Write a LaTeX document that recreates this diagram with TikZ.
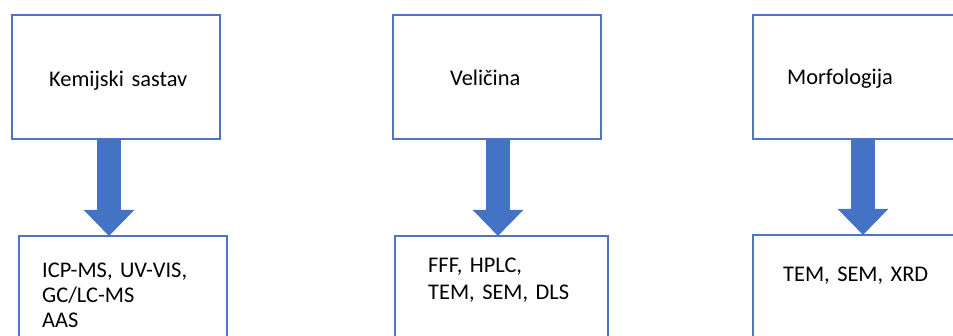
\documentclass[tikz,border=0pt]{standalone}
\usepackage{fontspec}
\setmainfont[WordSpace=0.6]{Carlito}
\usetikzlibrary{arrows.meta}
\definecolor{boxblue}{HTML}{4F75BF}
\definecolor{arrowblue}{HTML}{4472C4}
\tikzset{
  stagebox/.style={draw=boxblue, line width=2pt, minimum width=208pt, minimum height=124pt, anchor=north west, inner sep=0pt, outer sep=0pt},
  openbox/.style={draw=none, minimum width=208pt, minimum height=124pt, anchor=north west, inner sep=0pt, outer sep=0pt},
  edge/.style={draw=boxblue, line width=2pt},
  boxtext/.style={anchor=base west, inner sep=0pt, font=\fontsize{22.4}{25}\selectfont, text width=190pt, align=left},
  fatarrow/.style={draw=arrowblue, line width=24pt, -{Triangle[width=49pt,length=26pt]}}
}
\begin{document}
\begin{tikzpicture}[x=1pt,y=-1pt]
\useasboundingbox (0,0) rectangle (953,336);
\clip (0,0) rectangle (953,336);
% top boxes
\node[stagebox] (k) at (12,15) {};
\node[stagebox] (v) at (393,15) {};
\node[openbox, minimum width=240pt] (m) at (753,15) {};
\draw[edge] (m.north east) -- (m.north west) -- (m.south west) -- (m.south east);
% bottom boxes (running off the lower edge)
\node[openbox, minimum width=208pt, minimum height=140pt] (kb) at (19,236) {};
\node[openbox, minimum width=213pt, minimum height=140pt] (vb) at (395,236) {};
\node[openbox, minimum width=240pt, minimum height=140pt] (mb) at (753,235) {};
\draw[edge] (kb.south west) -- (kb.north west) -- (kb.north east) -- (kb.south east);
\draw[edge] (vb.south west) -- (vb.north west) -- (vb.north east) -- (vb.south east);
\draw[edge] (mb.south west) -- (mb.north west) -- (mb.north east);
% texts
\node[boxtext] (kt) at (49,87) {Kemijski sastav};
\node[boxtext] (vt) at (450,86) {Veličina};
\node[boxtext] (mt) at (787,85) {Morfologija};
\node[boxtext] (kbt) at (42,278) {ICP-MS, UV-VIS,\\GC/LC-MS\\AAS};
\node[boxtext, font=\fontsize{22.4}{27}\selectfont] (vbt) at (428,273) {FFF, HPLC,\\TEM, SEM, DLS};
\node[boxtext] (mbt) at (783,282) {TEM, SEM, XRD};
% arrows
\coordinate (a1s) at ([xshift=-7pt]k.south);
\coordinate (a2s) at ([xshift=1pt]v.south);
\coordinate (a3s) at ([xshift=110pt]m.south west);
\draw[fatarrow] (a1s) -- (a1s |- kb.north);
\draw[fatarrow] (a2s) -- (a2s |- vb.north);
\draw[fatarrow] (a3s) -- (a3s |- mb.north);
\end{tikzpicture}
\end{document}
